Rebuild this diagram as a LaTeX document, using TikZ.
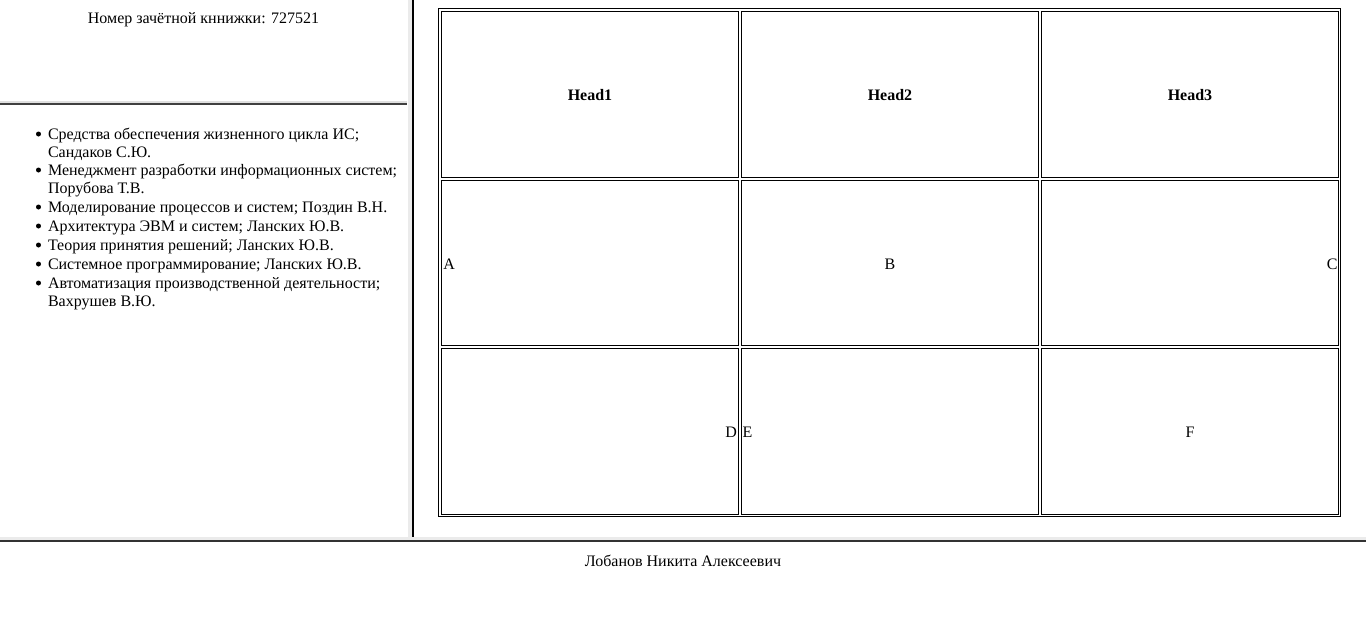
\documentclass[tikz,border=0pt]{standalone}
\usepackage{fontspec}
\setmainfont{Liberation Serif}
\begin{document}
\begin{tikzpicture}[x=1pt,y=-1pt,
  txt/.style={inner sep=0pt,outer sep=0pt,font=\fontsize{16}{18}\selectfont},
  head/.style={txt,font=\fontsize{16}{18}\selectfont\bfseries,anchor=base},
  cellbox/.style={draw=black,line width=1.1pt},
  bul/.style={fill=black,circle,inner sep=0pt,minimum size=5pt}]
\useasboundingbox[fill=white] (0,0) rectangle (1366,641);
% frame separators
\fill[black!8] (408,0) rectangle (411.7,537.3);
\fill[black] (412.3,0) rectangle (413.9,537.3);
\fill[black!12] (0,100.5) rectangle (407,103.3);
\fill[black!75] (0,103.3) rectangle (407,105.3);
\fill[black!8] (0,537.3) rectangle (1366,540.2);
\fill[black!80] (0,540.2) rectangle (1366,542.4);
% header text
\node[txt,anchor=base] (num) at (203.5,23.3) {Номер зачётной кннижки: 727521};
% list
\foreach \yy/\name in {134/b1,170/b2,207/b3,226/b4,245/b5,264/b6,283/b7}{
  \node[bul] (\name) at (38.5,\yy) {};
}
\node[txt,anchor=base west] (l1a) at (48,139) {Средства обеспечения жизненного цикла ИС;};
\node[txt,anchor=base west] (l1b) at (48,157) {Сандаков С.Ю.};
\node[txt,anchor=base west] (l2a) at (48,175.5) {Менеджмент разработки информационных систем;};
\node[txt,anchor=base west] (l2b) at (48,193.5) {Порубова Т.В.};
\node[txt,anchor=base west] (l3) at (48,212) {Моделирование процессов и систем; Поздин В.Н.};
\node[txt,anchor=base west] (l4) at (48,231) {Архитектура ЭВМ и систем; Ланских Ю.В.};
\node[txt,anchor=base west] (l5) at (48,250) {Теория принятия решений; Ланских Ю.В.};
\node[txt,anchor=base west] (l6) at (48,269) {Системное программирование; Ланских Ю.В.};
\node[txt,anchor=base west] (l7a) at (48,288) {Автоматизация производственной деятельности;};
\node[txt,anchor=base west] (l7b) at (48,306) {Вахрушев В.Ю.};
% table
\draw[cellbox] (438.8,8.6) rectangle (1340.8,516.8);
\foreach \xa/\xb/\c in {441.6/738.6/1,741.6/1038.6/2,1041.6/1338.6/3}{
  \foreach \ya/\yb/\r in {11.6/177.6/1,180.6/345.6/2,348.6/514.6/3}{
    \draw[cellbox] (\xa,\ya) rectangle (\xb,\yb);
  }
}
\node[head] (h1) at (590,100.5) {Head1};
\node[head] (h2) at (890,100.5) {Head2};
\node[head] (h3) at (1190,100.5) {Head3};
\node[txt,anchor=base west] (ca) at (443.3,269.3) {A};
\node[txt,anchor=base] (cb) at (890,269.3) {B};
\node[txt,anchor=base east] (cc) at (1337.5,269.3) {C};
\node[txt,anchor=base east] (cd) at (736.8,437.5) {D};
\node[txt,anchor=base west] (ce) at (742.6,437.5) {E};
\node[txt,anchor=base] (cf) at (1190,437.5) {F};
% footer
\node[txt,anchor=base] (foot) at (683,566) {Лобанов Никита Алексеевич};
\end{tikzpicture}
\end{document}
